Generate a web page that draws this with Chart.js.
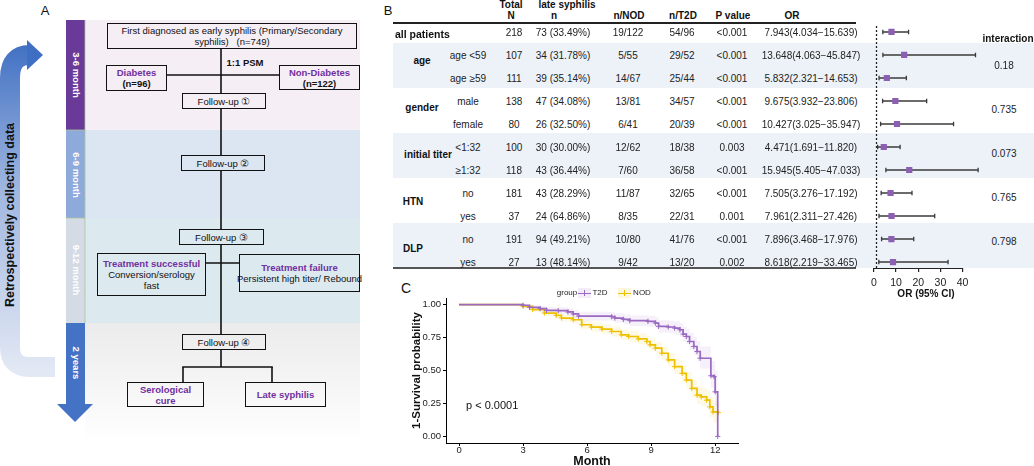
<!DOCTYPE html>
<html><head><meta charset="utf-8">
<script src="https://cdn.jsdelivr.net/npm/chart.js@4.4.1/dist/chart.umd.min.js"></script>
<style>
html,body{margin:0;padding:0;background:#fff;}
#root{position:relative;width:1034px;height:466px;overflow:hidden;font-family:"Liberation Sans",Arial,Helvetica,sans-serif;color:#111;}
.abs{position:absolute;}
.t{position:absolute;white-space:nowrap;transform:translate(-50%,-50%);line-height:1;}
.box{position:absolute;box-sizing:border-box;border:1.6px solid #111;display:flex;flex-direction:column;align-items:center;justify-content:center;text-align:center;font-size:9.5px;line-height:11px;white-space:nowrap;color:#111;}
.pur{color:#7030a0;font-weight:bold;}
.bold{font-weight:bold;}
canvas{position:absolute;}
</style></head>
<body><div id="root">
<svg class="abs" style="left:0;top:0" width="362" height="466">
<defs>
<linearGradient id="arrowGrad" gradientUnits="userSpaceOnUse" x1="0" y1="40" x2="0" y2="370">
<stop offset="0" stop-color="#3f6fc2"/><stop offset="0.45" stop-color="#9fb6e0"/><stop offset="1" stop-color="#e2e8f4"/>
</linearGradient>
<linearGradient id="greyGrad" x1="0" y1="0" x2="0" y2="1">
<stop offset="0" stop-color="#ebebeb"/><stop offset="1" stop-color="#ffffff"/>
</linearGradient>
</defs>
<rect x="85" y="20" width="275" height="110" fill="#f5eef5"/>
<rect x="85" y="130" width="275" height="88" fill="#dce5f2"/>
<rect x="85" y="218" width="275" height="105" fill="#dce9ef"/>
<rect x="85" y="323" width="275" height="120" fill="url(#greyGrad)"/>
<rect x="66" y="20" width="19" height="110" fill="#6a3a98"/>
<rect x="66" y="130" width="19" height="88" fill="#8eaadb"/>
<rect x="66" y="218" width="19" height="105" fill="#d5dbe5"/>
<rect x="66" y="323" width="19" height="82" fill="#4472c4"/>
<polygon points="57,404 93,404 75,422" fill="#4472c4"/>
<line x1="85" y1="20" x2="85" y2="323" stroke="#a9c4a0" stroke-width="0.8"/>
<line x1="66" y1="130" x2="85" y2="130" stroke="#a9c4a0" stroke-width="0.8"/>
<line x1="66" y1="218" x2="85" y2="218" stroke="#a9c4a0" stroke-width="0.8"/>
<path d="M 55 367 L 30 367 Q 10 367 10 347 L 10 78 Q 10 55 30 55" fill="none" stroke="url(#arrowGrad)" stroke-width="20"/>
<polygon points="27,40 43,55 27,70" fill="#3f6fc2"/>
<g stroke="#111" stroke-width="1.6">
<line x1="221" y1="49" x2="221" y2="93"/>
<line x1="167" y1="75" x2="279" y2="75"/>
<line x1="221" y1="108" x2="221" y2="155"/>
<line x1="221" y1="170" x2="221" y2="229"/>
<line x1="221" y1="245" x2="221" y2="334"/>
<line x1="206" y1="263" x2="239" y2="263"/>
<line x1="221" y1="349" x2="221" y2="367"/>
<line x1="182.2" y1="367" x2="272.8" y2="367"/>
<line x1="183" y1="367" x2="183" y2="382"/>
<line x1="272" y1="367" x2="272" y2="382"/>
</g>
</svg>
<div class="t" style="left:45px;top:10px;font-size:13px;">A</div>
<div class="t" style="left:388px;top:10px;font-size:13px;">B</div>
<div class="t" style="left:406px;top:288px;font-size:14px;">C</div>
<div class="t bold" style="left:10px;top:215px;font-size:12.5px;transform:translate(-50%,-50%) rotate(-90deg);">Retrospectively collecting data</div>
<div class="t bold" style="left:75.5px;top:75px;font-size:9.5px;color:#fff;transform:translate(-50%,-50%) rotate(90deg);">3-6 month</div>
<div class="t bold" style="left:75.5px;top:175px;font-size:9.5px;color:#fff;transform:translate(-50%,-50%) rotate(90deg);">6-9 month</div>
<div class="t bold" style="left:75.5px;top:270px;font-size:9.5px;color:#fff;transform:translate(-50%,-50%) rotate(90deg);">9-12 month</div>
<div class="t bold" style="left:75.5px;top:363px;font-size:9.5px;color:#fff;transform:translate(-50%,-50%) rotate(90deg);">2 years</div>

<div class="box" style="left:107px;top:23px;width:250px;height:26px;"><div>First diagnosed as early syphilis (Primary/Secondary</div><div>syphilis)&nbsp;&nbsp;&nbsp;(n=749)</div></div>
<div class="t bold" style="left:245px;top:63px;font-size:9.5px;">1:1 PSM</div>
<div class="box" style="left:106px;top:65px;width:61px;height:26px;"><div class="pur">Diabetes</div><div class="bold">(n=96)</div></div>
<div class="box" style="left:279px;top:65px;width:81px;height:25px;"><div class="pur">Non-Diabetes</div><div class="bold">(n=122)</div></div>
<div class="box" style="left:182px;top:93px;width:84px;height:16px;">Follow-up ①</div>
<div class="box" style="left:181px;top:155px;width:84px;height:16px;">Follow-up ②</div>
<div class="box" style="left:179px;top:229px;width:85px;height:16px;">Follow-up ③</div>
<div class="box" style="left:97px;top:253px;width:109px;height:43px;"><div class="pur">Treatment successful</div><div>Conversion/serology</div><div>fast</div></div>
<div class="box" style="left:239px;top:254px;width:121px;height:38px;"><div class="pur">Treatment failure</div><div>Persistent high titer/ Rebound</div></div>
<div class="box" style="left:182px;top:334px;width:84px;height:16px;">Follow-up ④</div>
<div class="box" style="left:127px;top:382px;width:77px;height:25px;"><div class="pur">Serological</div><div class="pur">cure</div></div>
<div class="box" style="left:245px;top:382px;width:81px;height:25px;"><div class="pur">Late syphilis</div></div>

<canvas id="forest" width="130" height="285" style="left:860px;top:20px;width:130px;height:285px;"></canvas>
<canvas id="km" width="390" height="190" style="left:360px;top:280px;width:390px;height:190px;"></canvas>
</div>
<script>
// ---------- Panel B data ----------
const groupNames = ["all patients", "age", "gender", "initial titer", "HTN", "DLP"];
const subgroupNames = ["", "age <59", "age ≥59", "male", "female", "<1:32", "≥1:32", "no", "yes", "no", "yes"];
const totalN = [218, 107, 111, 138, 80, 100, 118, 181, 37, 191, 27];
const lateCount = [73, 34, 39, 47, 26, 30, 43, 43, 24, 94, 13];
const latePct = [33.49, 31.78, 35.14, 34.08, 32.50, 30.00, 36.44, 28.29, 64.86, 49.21, 48.14];
const nodEvents = [19, 5, 14, 13, 6, 12, 7, 11, 8, 10, 9];
const nodTotal = [122, 55, 67, 81, 41, 62, 60, 87, 35, 80, 42];
const t2dEvents = [54, 29, 25, 34, 20, 18, 36, 32, 22, 41, 13];
const t2dTotal = [96, 52, 44, 57, 39, 38, 58, 65, 31, 76, 20];
const pValues = ["<0.001", "<0.001", "<0.001", "<0.001", "<0.001", "0.003", "<0.001", "<0.001", "0.001", "<0.001", "0.002"];
const orValue = [7.943, 13.648, 5.832, 9.675, 10.427, 4.471, 15.945, 7.505, 7.961, 7.896, 8.618];
const orLow = [4.034, 4.063, 2.321, 3.932, 3.025, 1.691, 5.405, 3.276, 2.311, 3.468, 2.219];
const orHigh = [15.639, 45.847, 14.653, 23.806, 35.947, 11.820, 47.033, 17.192, 27.426, 17.976, 33.465];
const interactionP = ["0.18", "0.735", "0.073", "0.765", "0.798"];
const orTicks = [0, 10, 20, 30, 40];

// ---------- Panel C data ----------
const t2dTime = [0, 3.0, 3.3, 3.8, 4.1, 4.65, 5.1, 5.35, 5.6, 7.15, 7.3, 7.7, 8.0, 8.85, 9.2, 9.35, 9.8, 10.1, 10.35, 10.5, 10.65, 10.8, 11.0, 11.15, 11.3, 11.8, 11.95, 12.0, 12.12];
const t2dSurv = [1, 0.995, 0.979, 0.969, 0.956, 0.954, 0.944, 0.929, 0.913, 0.908, 0.898, 0.888, 0.878, 0.873, 0.860, 0.835, 0.830, 0.822, 0.809, 0.776, 0.758, 0.720, 0.682, 0.644, 0.593, 0.460, 0.453, 0.338, 0.0];
const t2dLow = [1, 0.985, 0.962, 0.948, 0.932, 0.929, 0.917, 0.899, 0.880, 0.874, 0.862, 0.850, 0.838, 0.832, 0.816, 0.788, 0.782, 0.772, 0.757, 0.720, 0.700, 0.657, 0.615, 0.572, 0.515, 0.370, 0.360, 0.230, 0.0];
const t2dHigh = [1, 1, 0.995, 0.990, 0.980, 0.979, 0.971, 0.959, 0.946, 0.942, 0.934, 0.926, 0.918, 0.914, 0.904, 0.882, 0.878, 0.872, 0.861, 0.832, 0.817, 0.787, 0.756, 0.724, 0.683, 0.572, 0.566, 0.495, 0.0];
const nodTime = [0, 3.0, 3.45, 4.0, 4.55, 4.8, 5.35, 5.75, 6.2, 6.7, 7.15, 7.6, 7.95, 8.4, 8.8, 8.95, 9.2, 9.5, 9.8, 10.1, 10.45, 10.65, 10.9, 11.15, 11.35, 11.6, 11.75, 11.9, 12.15];
const nodSurv = [1, 0.987, 0.962, 0.936, 0.918, 0.898, 0.885, 0.847, 0.829, 0.814, 0.796, 0.771, 0.758, 0.740, 0.720, 0.695, 0.669, 0.631, 0.580, 0.529, 0.478, 0.427, 0.364, 0.313, 0.300, 0.275, 0.224, 0.186, 0.181];
const nodLow = [1, 0.979, 0.947, 0.916, 0.894, 0.871, 0.856, 0.814, 0.794, 0.778, 0.758, 0.731, 0.717, 0.698, 0.676, 0.650, 0.622, 0.582, 0.528, 0.474, 0.420, 0.365, 0.299, 0.245, 0.230, 0.202, 0.147, 0.106, 0.101];
const nodHigh = [1, 0.995, 0.977, 0.956, 0.942, 0.925, 0.914, 0.880, 0.864, 0.850, 0.834, 0.811, 0.799, 0.782, 0.764, 0.740, 0.716, 0.680, 0.632, 0.584, 0.536, 0.489, 0.429, 0.381, 0.370, 0.348, 0.301, 0.266, 0.261];
const monthTicks = [0, 3, 6, 9, 12];
const survTicks = [0, 0.25, 0.5, 0.75, 1.0];

// ---------- Layout helpers ----------
const root = document.getElementById('root');
function txt(x, y, s, css) {
  const d = document.createElement('div');
  d.className = 't';
  d.style.left = x + 'px'; d.style.top = y + 'px';
  d.textContent = s;
  if (css) d.style.cssText += css;
  root.appendChild(d);
  return d;
}
function rect(x, y, w, h, color, before) {
  const d = document.createElement('div');
  d.className = 'abs';
  d.style.cssText = `position:absolute;left:${x}px;top:${y}px;width:${w}px;height:${h}px;background:${color};`;
  if (before) root.insertBefore(d, before); else root.appendChild(d);
  return d;
}
const firstCanvas = document.getElementById('forest');
// shaded group bands (age, initial titer, DLP)
[0, 1, 2].forEach(j => rect(393, 43 + 90 * j, 641, 45, '#edf2f8', firstCanvas));
// header / bottom rules
rect(393, 22, 463, 2, '#222', firstCanvas);
rect(393, 267, 463, 2, '#555', firstCanvas);

// header text
const H = 'font-weight:bold;font-size:10px;';
txt(511, 5, 'Total', H); txt(511, 15.5, 'N', H);
txt(567, 5, 'late syphilis', H); txt(554, 15.5, 'n', H);
txt(629, 15.5, 'n/NOD', H); txt(683, 15.5, 'n/T2D', H);
txt(733, 15.5, 'P value', H); txt(792, 15.5, 'OR', H);
txt(1008, 39, 'interaction', H);

const B = 'font-size:10px;color:#222;';
const rowY = i => 33 + 23 * i;
txt(395, 34, groupNames[0], 'font-weight:bold;font-size:10.5px;transform:translate(0,-50%);');
const groupX = [422, 422, 428, 413, 413];
for (let k = 1; k < groupNames.length; k++) txt(groupX[k - 1], 61 + 47 * (k - 1), groupNames[k], 'font-weight:bold;font-size:10px;');
for (let i = 0; i < totalN.length; i++) {
  const y = rowY(i);
  if (subgroupNames[i]) txt(468, y, subgroupNames[i], B);
  txt(514, y, String(totalN[i]), B);
  txt(563, y, `${lateCount[i]} (${latePct[i].toFixed(2)}%)`, B);
  txt(628, y, `${nodEvents[i]}/${nodTotal[i]}`, B);
  txt(682, y, `${t2dEvents[i]}/${t2dTotal[i]}`, B);
  txt(732, y, pValues[i], B);
  txt(811, y, `${orValue[i].toFixed(3)}(${orLow[i].toFixed(3)}−${orHigh[i].toFixed(3)})`, B);
}
interactionP.forEach((p, k) => txt(1004, 66 + 44 * k, p, B));

// ---------- Forest plot ----------
const forestDatasets = [{
  data: orValue.map((v, i) => ({x: v, y: i})),
  pointStyle: 'rect', pointRadius: 4.4, backgroundColor: '#8c5fb2', borderColor: '#8c5fb2', borderWidth: 0, showLine: false
}];
orValue.forEach((v, i) => forestDatasets.push({
  data: [{x: orLow[i], y: i}, {x: orHigh[i], y: i}],
  showLine: true, borderColor: '#3a3a3a', borderWidth: 1.3,
  pointStyle: 'line', pointRotation: 90, pointRadius: 2.3, pointBorderColor: '#3a3a3a', pointBorderWidth: 1.3
}));
const forestAxis = {
  id: 'forestAxis',
  beforeDatasetsDraw(c) {
    const x = c.scales.x, ctx = c.ctx, a = c.chartArea;
    ctx.save();
    ctx.strokeStyle = '#222'; ctx.lineWidth = 1.3;
    ctx.setLineDash([2, 2]);
    const px = Math.round(x.getPixelForValue(1)) + 0.5;
    ctx.beginPath(); ctx.moveTo(px, a.top); ctx.lineTo(px, a.bottom); ctx.stroke();
    ctx.setLineDash([]);
    ctx.lineWidth = 1.2;
    ctx.beginPath();
    ctx.moveTo(x.getPixelForValue(orTicks[0]), a.bottom + 0.5);
    ctx.lineTo(x.getPixelForValue(orTicks[orTicks.length - 1]), a.bottom + 0.5);
    ctx.stroke();
    ctx.restore();
  }
};
new Chart(document.getElementById('forest'), {
  type: 'scatter',
  data: {datasets: forestDatasets},
  plugins: [forestAxis],
  options: {
    responsive: false, animation: false, events: [],
    layout: {padding: {left: 7.25, top: 6, right: 3.5, bottom: 0}},
    plugins: {legend: {display: false}, tooltip: {enabled: false}},
    scales: {
      x: {
        type: 'linear', min: -3, max: 50,
        afterBuildTicks: s => { s.ticks = orTicks.map(v => ({value: v})); },
        afterFit: s => { s.height = 37; },
        border: {display: false},
        grid: {drawOnChartArea: false, drawTicks: true, tickLength: 4, color: '#222', lineWidth: 1.2},
        ticks: {font: {size: 10.5, family: 'Liberation Sans'}, color: '#222', padding: 5, maxRotation: 0},
        title: {display: true, text: 'OR (95% CI)', font: {size: 10, weight: 'bold', family: 'Liberation Sans'}, color: '#111', padding: {top: 0, bottom: 4.5}}
      },
      y: {type: 'linear', min: -0.26, max: 10.26, reverse: true, display: false}
    }
  }
});

// ---------- KM curves ----------
const pts = (t, v) => t.map((x, i) => ({x: x, y: v[i]}));
const T2D_COLOR = '#9a6ac2', NOD_COLOR = '#efc000';
const censorR = ctx => (ctx.dataIndex === 0 ? 0 : 2.6);
new Chart(document.getElementById('km'), {
  type: 'line',
  data: {datasets: [
    {label: 'T2D', data: pts(t2dTime, t2dSurv), stepped: true, borderColor: T2D_COLOR, borderWidth: 1.7,
     pointStyle: 'cross', pointRadius: censorR, pointBorderColor: T2D_COLOR, pointBorderWidth: 1, fill: false},
    {label: 'NOD', data: pts(nodTime, nodSurv), stepped: true, borderColor: NOD_COLOR, borderWidth: 1.7,
     pointStyle: 'cross', pointRadius: censorR, pointBorderColor: NOD_COLOR, pointBorderWidth: 1, fill: false},
    {label: 'T2D upper', data: pts(t2dTime, t2dHigh), stepped: true, borderWidth: 0, borderColor: 'rgba(0,0,0,0)', pointRadius: 0, fill: '+1', backgroundColor: 'rgba(154,106,194,0.10)'},
    {label: 'T2D lower', data: pts(t2dTime, t2dLow), stepped: true, borderWidth: 0, borderColor: 'rgba(0,0,0,0)', pointRadius: 0, fill: false},
    {label: 'NOD upper', data: pts(nodTime, nodHigh), stepped: true, borderWidth: 0, borderColor: 'rgba(0,0,0,0)', pointRadius: 0, fill: '+1', backgroundColor: 'rgba(239,192,0,0.10)'},
    {label: 'NOD lower', data: pts(nodTime, nodLow), stepped: true, borderWidth: 0, borderColor: 'rgba(0,0,0,0)', pointRadius: 0, fill: false}
  ]},
  options: {
    responsive: false, animation: false, events: [],
    layout: {padding: {left: 50, top: 18, right: 12, bottom: 0}},
    plugins: {legend: {display: false}, tooltip: {enabled: false}},
    scales: {
      x: {
        type: 'linear', min: -0.61, max: 13.07,
        afterBuildTicks: s => { s.ticks = monthTicks.map(v => ({value: v})); },
        afterFit: s => { s.height = 27; },
        border: {display: true, color: '#000', width: 1},
        grid: {drawOnChartArea: false, drawTicks: true, tickLength: 3, color: '#000'},
        ticks: {font: {size: 9.5, family: 'Liberation Sans'}, color: '#222', padding: -1, maxRotation: 0},
        title: {display: true, text: 'Month', font: {size: 12.5, weight: 'bold', family: 'Liberation Sans'}, color: '#111', padding: {top: 0, bottom: 1}}
      },
      y: {
        type: 'linear', min: -0.05, max: 1.05,
        afterBuildTicks: s => { s.ticks = survTicks.map(v => ({value: v})); },
        afterFit: s => { s.width = 36; },
        border: {display: true, color: '#000', width: 1},
        grid: {drawOnChartArea: false, drawTicks: true, tickLength: 3, color: '#000'},
        ticks: {font: {size: 9.5, family: 'Liberation Sans'}, color: '#222', padding: 2, callback: v => Number(v).toFixed(2)},
        title: {display: true, text: '1-Survival probability', font: {size: 11.5, weight: 'bold', family: 'Liberation Sans'}, color: '#111', padding: {top: 0, bottom: 0}}
      }
    }
  }
});

// KM legend and annotation
txt(567, 293, 'group', 'font-size:8px;color:#222;');
function legendKey(x, color, bg) {
  rect(x, 288, 13, 10, bg);
  rect(x, 292.5, 13, 1.5, color);
  rect(x + 6, 290, 1, 6, color);
}
legendKey(578, T2D_COLOR, 'rgba(154,106,194,0.12)');
txt(600, 293, 'T2D', 'font-size:8px;color:#222;');
legendKey(618, NOD_COLOR, 'rgba(239,192,0,0.12)');
txt(642, 293, 'NOD', 'font-size:8px;color:#222;');
txt(466, 405, 'p < 0.0001', 'font-size:11px;color:#111;transform:translate(0,-50%);');
</script>
</body></html>
